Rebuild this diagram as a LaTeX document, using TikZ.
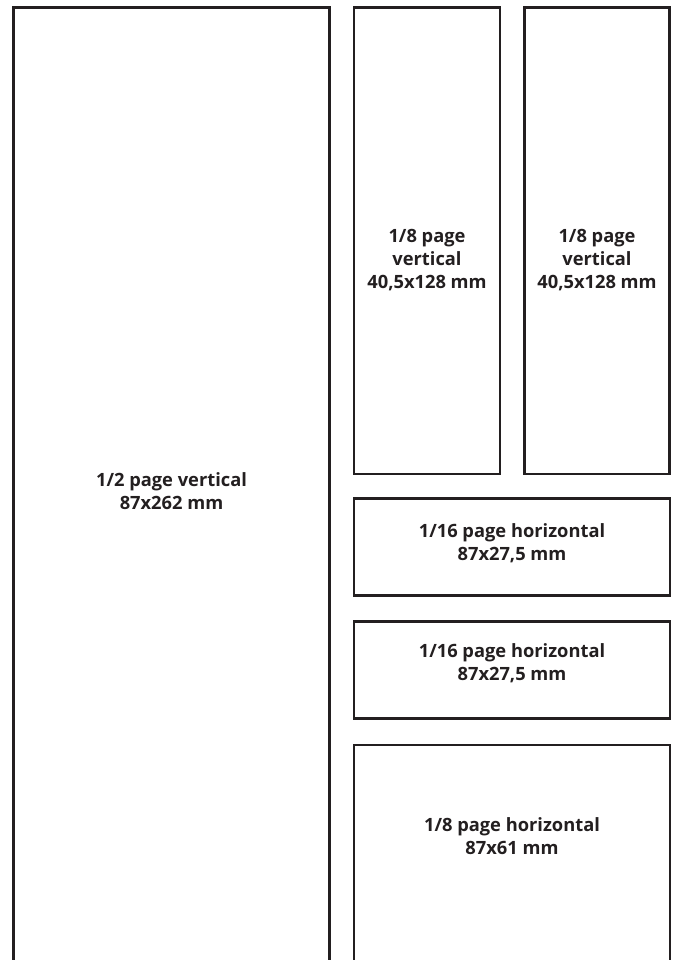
\documentclass[tikz,border=0pt]{standalone}
\usepackage{fontspec}
\setmainfont{Open Sans}
\definecolor{ink}{HTML}{231F20}
\begin{document}
\begin{tikzpicture}[x=1pt,y=-1pt,
  box/.style={draw=ink, line width=2.7pt, fill=white, rectangle, outer sep=0pt, inner sep=0pt, anchor=north west},
  lbl/.style={text=ink, font=\fontsize{18.3}{23}\selectfont\bfseries, align=center}]
\useasboundingbox (0,0) rectangle (677,960);
\clip (0,0) rectangle (677,960);
\fill[white] (0,0) rectangle (677,960);
\node[box, minimum width=316pt, minimum height=980pt] (half) at (13.5,7.5) {};
\node[box, minimum width=146pt, minimum height=466.5pt] (va) at (354,7.5) {};
\node[box, minimum width=145pt, minimum height=466.5pt] (vb) at (524.5,7.5) {};
\node[box, minimum width=316pt, minimum height=97pt] (ha) at (354,498.5) {};
\node[box, minimum width=316pt, minimum height=97pt] (hb) at (354,621.5) {};
\node[box, minimum width=316pt, minimum height=250pt] (hc) at (354,745) {};
\node[lbl] (thalf) at (171.5,491) {1/2 page vertical\\87x262 mm};
\node[lbl] (tva) at (427,260) {1/8 page\\vertical\\40,5x128 mm};
\node[lbl] (tvb) at (597,260) {1/8 page\\vertical\\40,5x128 mm};
\node[lbl] (tha) at (512,543) {1/16 page horizontal\\87x27,5 mm};
\node[lbl] (thb) at (512,663) {1/16 page horizontal\\87x27,5 mm};
\node[lbl] (thc) at (512,836.5) {1/8 page horizontal\\87x61 mm};
\end{tikzpicture}
\end{document}
